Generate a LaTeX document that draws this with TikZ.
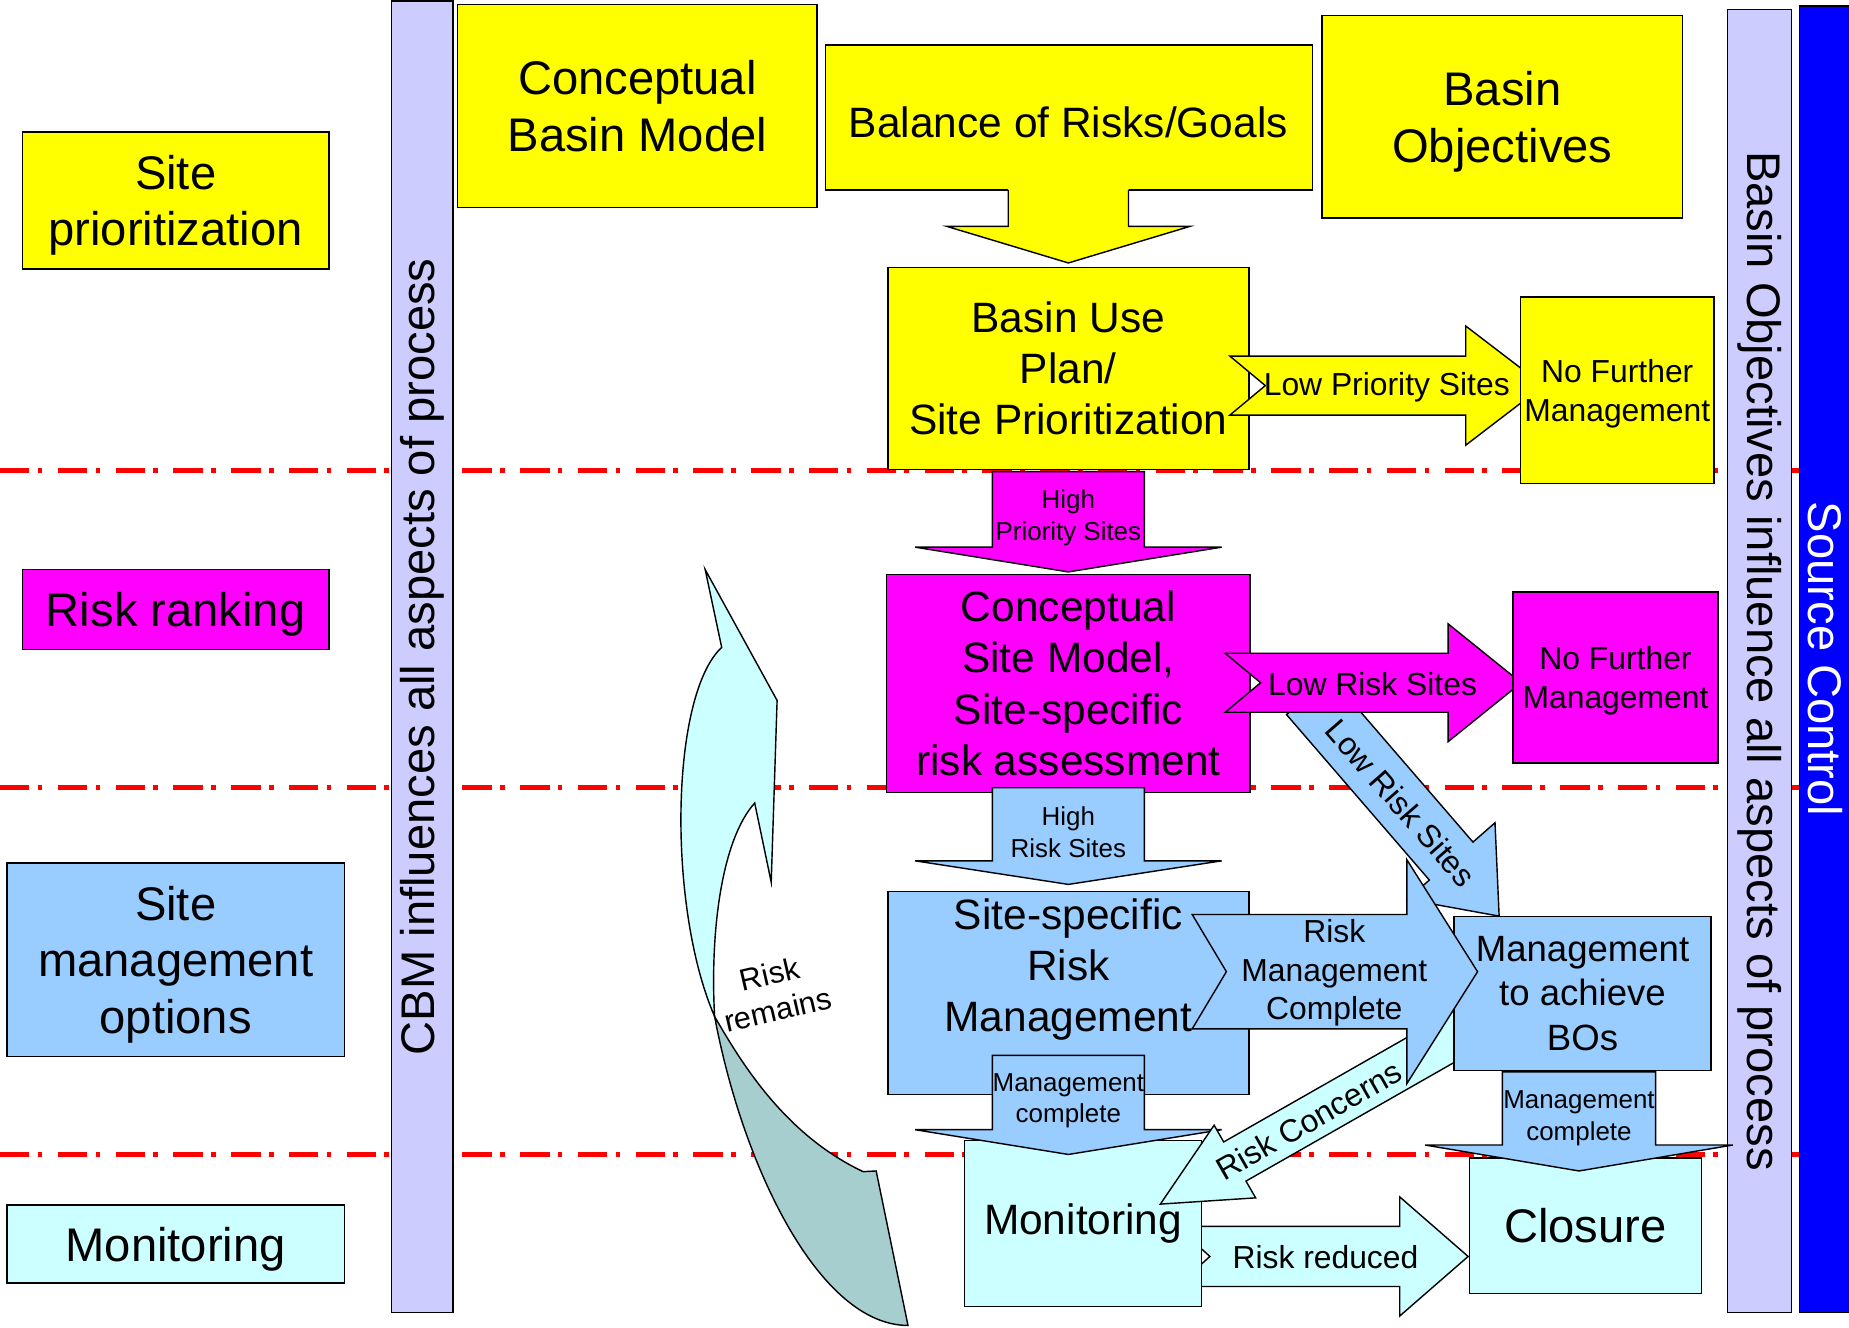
\documentclass[tikz,border=0pt]{standalone}
\usepackage{fontspec}
\setmainfont{Liberation Sans}
\usepackage{tikz}

\definecolor{siteyellow}{HTML}{FFFF00}
\definecolor{riskmag}{HTML}{FF00FF}
\definecolor{mgmtblue}{HTML}{99CCFF}
\definecolor{moncyan}{HTML}{CCFFFF}
\definecolor{barlav}{HTML}{CCCCFF}
\definecolor{srcblue}{HTML}{0000FF}
\definecolor{remaindark}{HTML}{A6CECE}

\newcommand{\fsbig}{\fontsize{40}{48}\selectfont}
\newcommand{\fsmid}{\fontsize{36}{43.5}\selectfont}
\newcommand{\fsbos}{\fontsize{31}{38}\selectfont}
\newcommand{\fssmall}{\fontsize{27}{32.5}\selectfont}
\newcommand{\fsrem}{\fontsize{26}{31}\selectfont}
\newcommand{\fstiny}{\fontsize{22}{27}\selectfont}

\tikzset{
  box/.style={draw, line width=1.2pt, inner sep=0pt, outer sep=0pt, align=center},
  flatbox/.style={box, text depth=0pt},
  lbl/.style={inner sep=0pt, align=center},
  blockarr/.style={draw, line width=1.2pt},
  sep line/.style={red, line width=4pt, dash pattern=on 25pt off 7pt on 4pt off 13pt},
}

% colour, centre x, top y, head y, tip y, shaft half, head half
\newcommand{\downblock}[7]{%
  \filldraw[blockarr, fill=#1] ({#2-#6},#3) -- ({#2-#6},#4) -- ({#2-#7},#4) -- (#2,#5)
    -- ({#2+#7},#4) -- ({#2+#6},#4) -- ({#2+#6},#3) -- cycle;}

% colour, tail x, notch depth, head x, tip x, centre y, shaft half, head half
\newcommand{\rightblock}[8]{%
  \filldraw[blockarr, fill=#1] (#2,{#6-#7}) -- (#4,{#6-#7}) -- (#4,{#6-#8}) -- (#5,#6)
    -- (#4,{#6+#8}) -- (#4,{#6+#7}) -- (#2,{#6+#7}) -- ({#2+#3},#6) -- cycle;}

\begin{document}
\begin{tikzpicture}[x=1pt, y=-1pt]
	\useasboundingbox (0,0) rectangle (1568,1126);
	
	% stage separators
	\draw[sep line] (0,399) -- (1526,399);
	\draw[sep line] (0,668) -- (1526,668);
	\draw[sep line] (0,979) -- (1526,979);
	
	% stage labels
	\node[flatbox, fill=siteyellow, minimum width=260pt, minimum height=116pt, font=\fsbig] (lsite) at (149,170) {Site\\prioritization};
	\node[flatbox, fill=riskmag, minimum width=260pt, minimum height=68pt, font=\fsbig] (lrisk) at (149,517) {Risk ranking};
	\node[flatbox, fill=mgmtblue, minimum width=286pt, minimum height=164pt, font=\fsbig] (lmgmt) at (149,814) {Site\\management\\options};
	\node[flatbox, fill=moncyan, minimum width=286pt, minimum height=66pt, font=\fsbig] (lmon) at (149,1055) {Monitoring};
	
	% side bars
	\node[box, fill=barlav, rotate=90, minimum width=1112pt, minimum height=52pt, font=\fsbig] (cbmbar) at (358,557) {CBM influences all aspects of process};
	\node[box, fill=barlav, rotate=-90, minimum width=1105pt, minimum height=54pt, font=\fsbig] (bobar) at (1492,560.5) {Basin Objectives influence all aspects of process};
	\node[box, fill=srcblue, text=white, rotate=-90, minimum width=1108pt, minimum height=44pt, font=\fsbig] (srcbar) at (1548,559) {Source Control};
	
	% top row
	\node[box, fill=siteyellow, minimum width=305pt, minimum height=172pt, font=\fsbig] (cbmod) at (540.5,90) {Conceptual\\Basin Model};
	\node[box, fill=siteyellow, minimum width=413pt, minimum height=123pt] (bal) at (906.5,99.5) {};
	\node[lbl, font=\fsmid] (baltext) at (906,104) {Balance of Risks/Goals};
	\node[flatbox, fill=siteyellow, minimum width=306pt, minimum height=172pt, font=\fsbig] (bobj) at (1274,99) {Basin\\Objectives};
	\fill[siteyellow] (855,158) -- (855,192) -- (803,192) -- (906,223) -- (1009,192) -- (957,192) -- (957,158) -- cycle;
	\draw[blockarr] (855,161) -- (855,192) -- (803,192) -- (906,223) -- (1009,192) -- (957,192) -- (957,161);
	
	% site prioritization
	\node[box, fill=siteyellow, minimum width=306pt, minimum height=171pt, font=\fsmid] (bup) at (906,312.5) {Basin Use\\Plan/\\Site Prioritization};
	\rightblock{siteyellow}{1043}{30}{1243}{1309}{327}{25}{50.5}
	\node[lbl, font=\fssmall] (lps) at (1176,328) {Low Priority Sites};
	\node[flatbox, fill=siteyellow, minimum width=164pt, minimum height=158pt, font=\fssmall] (nfm1) at (1371.5,331) {No Further\\Management};
	\downblock{riskmag}{906}{400}{464}{485}{64.5}{130}
	\node[lbl, font=\fstiny] (hps) at (906,439) {High\\Priority Sites};
	
	% risk ranking
	\node[box, fill=riskmag, minimum width=308pt, minimum height=185pt, font=\fsmid] (csm) at (906,579.5) {Conceptual\\Site Model,\\Site-specific\\risk assessment};
	\filldraw[blockarr, fill=mgmtblue] (1091,606) -- (1128,573.8) -- (1249.1,714.1) -- (1267.8,697.7) -- (1271.3,776.9) -- (1193.4,762.7) -- (1212.1,746.3) -- cycle;
	\node[lbl, font=\fssmall, rotate=-48.9] (lrsdiag) at (1188,681) {Low Risk Sites};
	\rightblock{riskmag}{1039}{30}{1228}{1290}{579}{25}{50}
	\node[lbl, font=\fssmall] (lrs) at (1164,580) {Low Risk Sites};
	\node[flatbox, fill=riskmag, minimum width=174pt, minimum height=145pt, font=\fssmall] (nfm2) at (1370,574.5) {No Further\\Management};
	\downblock{mgmtblue}{906}{668}{730}{750}{64.5}{130}
	\node[lbl, font=\fstiny] (hrs) at (906,705.5) {High\\Risk Sites};
	
	% site management
	\node[box, fill=mgmtblue, minimum width=306pt, minimum height=172pt] (ssrm) at (906,842) {};
	\node[lbl, font=\fsmid] (ssrmtext) at (906,822) {Site-specific\\Risk\\Management};
	
	% monitoring
	\rightblock{moncyan}{998}{28}{1187}{1245}{1065.5}{25.5}{50.5}
	\node[lbl, font=\fssmall] (rred) at (1124,1066) {Risk reduced};
	\node[box, fill=moncyan, minimum width=201pt, minimum height=141pt, font=\fsmid] (mont) at (918.5,1037.5) {Monitoring};
	\downblock{mgmtblue}{906}{895}{958}{979}{64.5}{130}
	\node[lbl, font=\fstiny] (mcl) at (906,933.5) {Management\\complete};
	\filldraw[blockarr, fill=moncyan] (1263.8,883.5) -- (1056.6,1001.6) -- (1064.8,1015.8) -- (984,1021.1) -- (1029.6,954.2) -- (1037.7,968.4) -- (1244.9,850.3) -- cycle;
	\node[lbl, font=\fssmall, rotate=29.7] (rc) at (1110,950) {Risk Concerns};
	\node[box, fill=mgmtblue, minimum width=218pt, minimum height=131pt, font=\fsbos] (mbo) at (1342,842.5) {Management\\to achieve\\BOs};
	\rightblock{mgmtblue}{1011}{29}{1193}{1253}{824}{48.5}{95}
	\node[lbl, font=\fssmall] (rmc) at (1131.5,825) {Risk\\Management\\Complete};
	\node[box, fill=moncyan, minimum width=197pt, minimum height=115pt, font=\fsbig] (clo) at (1344.5,1039.5) {Closure};
	\downblock{mgmtblue}{1339}{909}{971}{993}{65}{130.5}
	\node[lbl, font=\fstiny] (mcr) at (1339,948) {Management\\complete};
	
	% risk remains loop
	\filldraw[blockarr, fill=moncyan] (606,862) .. controls (566,770) and (568,590) .. (612,549) -- (598,483) -- (659,594) -- (654,748) -- (640,681) .. controls (612,712) and (602,790) .. (606,862) -- cycle;
	\filldraw[blockarr, fill=remaindark] (606,862) .. controls (630,990) and (695,1124) .. (770,1124) -- (743,993) -- (732,993.6) .. controls (665,962) and (628,900) .. (606,862) -- cycle;
	\node[lbl, font=\fsrem, rotate=13] (rrem) at (656,841) {Risk\\remains};
	
\end{tikzpicture}
\end{document}
